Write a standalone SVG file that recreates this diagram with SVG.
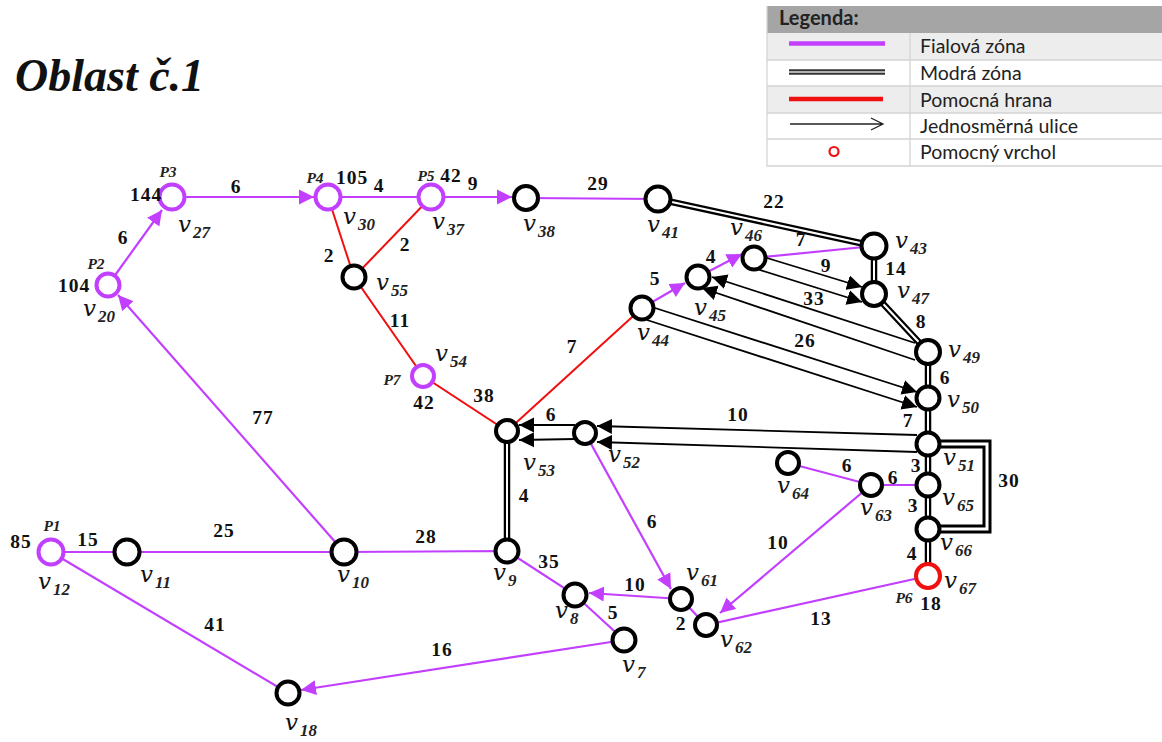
<svg xmlns="http://www.w3.org/2000/svg" width="1162" height="742" viewBox="0 0 1162 742">
<style>
.p{fill:none;stroke:#c23fff;stroke-width:2.200}
.r{fill:none;stroke:#f01010;stroke-width:2}
.a{fill:none;stroke:#000;stroke-width:1.800}
.do{fill:none;stroke:#000;stroke-width:6.500}
.di{fill:none;stroke:#fff;stroke-width:2}
.n{fill:#fff;stroke:#000;stroke-width:4}
.np{fill:#fff;stroke:#c23fff;stroke-width:4}
.nr{fill:#fff;stroke:#f01010;stroke-width:4}
.w,.l{font:bold 19.500px "Liberation Serif",serif;fill:#111;text-anchor:middle;letter-spacing:1px}
.t{font:italic bold 15.500px "Liberation Serif",serif;fill:#222;text-anchor:middle}
.v{font:italic 23px "DejaVu Serif",serif;fill:#111}
.s{font:italic bold 17px "Liberation Serif",serif;fill:#222}
.lg{font:19.500px Lato,sans-serif;fill:#222}
</style>
<defs>
<marker id="ap" markerUnits="userSpaceOnUse" markerWidth="16" markerHeight="16" refX="15" refY="8" orient="auto"><path d="M0 .5L15 8L0 15.500z" fill="#c23fff"/></marker>
<marker id="ab" markerUnits="userSpaceOnUse" markerWidth="16" markerHeight="16" refX="15" refY="8" orient="auto"><path d="M0 .5L15 8L0 15.500z" fill="#000"/></marker>
</defs>
<rect width="1162" height="742" fill="#fff"/>
<text x="15" y="91" font-family="Liberation Serif, serif" font-style="italic" font-weight="700" font-size="46" fill="#111">Oblast č.1</text>
<g id="legend">
<rect x="767" y="6" width="395" height="27" fill="#a5a5a5"/>
<rect x="767" y="33" width="395" height="27" fill="#ededed"/>
<rect x="767" y="86" width="395" height="27" fill="#ededed"/>
<path d="M767 6V166H1162M767 60H1162M767 86H1162M767 113H1162M767 139H1162M910 33V166" fill="none" stroke="#d4d4d4" stroke-width="1.300"/>
<text x="779" y="25" font-family="Lato, sans-serif" font-weight="700" font-size="20" fill="#222">Legenda:</text>
<path d="M789 43.500H885" fill="none" stroke="#c23fff" stroke-width="4.500"/>
<path d="M789 72H885" fill="none" stroke="#333" stroke-width="5.500"/><path d="M789 72H885" fill="none" stroke="#ddd" stroke-width="1.500"/>
<path d="M789 99H883" fill="none" stroke="#f01010" stroke-width="4.500"/>
<path d="M790 124H883M871 118L883 124L871 130" fill="none" stroke="#222" stroke-width="1.300"/>
<circle cx="834" cy="151.500" r="4.500" fill="#fff" stroke="#f01010" stroke-width="2.200"/>
<text class="lg" x="920" y="53">Fialová zóna</text>
<text class="lg" x="920" y="80">Modrá zóna</text>
<text class="lg" x="920" y="107">Pomocná hrana</text>
<text class="lg" x="920" y="133">Jednosměrná ulice</text>
<text class="lg" x="920" y="159">Pomocný vrchol</text>
</g>
<g id="connectors">
<path class="p" d="M51 552H344L507 551L575 595L624 640"/>
<path class="p" d="M51 552L288 693"/>
<path class="p" d="M624 640L301 690" marker-end="url(#ap)"/>
<path class="p" d="M344 552L118 295" marker-end="url(#ap)"/>
<path class="p" d="M108 285L162 210" marker-end="url(#ap)"/>
<path class="p" d="M172 197H314" marker-end="url(#ap)"/>
<path class="p" d="M328 197H431"/>
<path class="p" d="M431 197H512" marker-end="url(#ap)"/>
<path class="p" d="M526 198L658 199"/>
<path class="p" d="M642 308L685 283" marker-end="url(#ap)"/>
<path class="p" d="M698 277L742 254" marker-end="url(#ap)"/>
<path class="p" d="M754 258L874 246"/>
<path class="p" d="M788 463L871 485L928 485"/>
<path class="p" d="M871 485L720 613" marker-end="url(#ap)"/>
<path class="p" d="M928 576L706 625L681 599"/>
<path class="p" d="M681 599L589 593" marker-end="url(#ap)"/>
<path class="p" d="M585 433L671 589" marker-end="url(#ap)"/>
<path class="r" d="M328 197L354 277L423 376L507 431L642 308"/>
<path class="r" d="M431 197L354 277"/>
<path class="do" d="M658 199L874 246M874 246V294L928 352V576M507 431V551"/>
<path class="di" d="M658 199L874 246M874 246V294L928 352V576M507 431V551"/>
<path class="do" d="M928 444H987V529H928" style="stroke-width:9"/>
<path class="di" d="M928 444H987V529H928" style="stroke-width:3"/>
<path class="a" d="M767 258L862 287" marker-end="url(#ab)"/>
<path class="a" d="M757 269L862 302" marker-end="url(#ab)"/>
<path class="a" d="M915 343L712 277" marker-end="url(#ab)"/>
<path class="a" d="M915 360L702 288" marker-end="url(#ab)"/>
<path class="a" d="M655 308L917 392" marker-end="url(#ab)"/>
<path class="a" d="M647 320L917 407" marker-end="url(#ab)"/>
<path class="a" d="M917 435L597 426" marker-end="url(#ab)"/>
<path class="a" d="M917 452L597 442" marker-end="url(#ab)"/>
<path class="a" d="M575 425L519 425" marker-end="url(#ab)"/>
<path class="a" d="M575 439L519 440" marker-end="url(#ab)"/>
</g>
<g id="weights">
<text class="w" x="236" y="193">6</text><text class="w" x="379" y="192">4</text><text class="w" x="473" y="190">9</text><text class="w" x="598" y="190">29</text><text class="w" x="774" y="208">22</text><text class="w" x="801" y="246">7</text><text class="w" x="711" y="263">4</text><text class="w" x="826" y="272">9</text><text class="w" x="896" y="275">14</text><text class="w" x="655" y="285">5</text><text class="w" x="814" y="305">33</text><text class="w" x="921" y="328">8</text><text class="w" x="805" y="347">26</text><text class="w" x="572" y="353">7</text><text class="w" x="945" y="384">6</text><text class="w" x="484" y="402">38</text><text class="w" x="551" y="421">6</text><text class="w" x="738" y="421">10</text><text class="w" x="908" y="427">7</text><text class="w" x="916" y="472">3</text><text class="w" x="847" y="472">6</text><text class="w" x="893" y="484">6</text><text class="w" x="913" y="512">3</text><text class="w" x="1009" y="487">30</text><text class="w" x="524" y="502">4</text><text class="w" x="652" y="528">6</text><text class="w" x="778" y="549">10</text><text class="w" x="549" y="568">35</text><text class="w" x="912" y="560">4</text><text class="w" x="426" y="543">28</text><text class="w" x="224" y="537">25</text><text class="w" x="88" y="546">15</text><text class="w" x="635" y="591">10</text><text class="w" x="613" y="619">5</text><text class="w" x="681" y="630">2</text><text class="w" x="821" y="625">13</text><text class="w" x="215" y="631">41</text><text class="w" x="442" y="656">16</text><text class="w" x="263" y="424">77</text><text class="w" x="400" y="327">11</text><text class="w" x="329" y="262">2</text><text class="w" x="405" y="251">2</text><text class="w" x="123" y="244">6</text>
</g>
<g id="v12"><circle class="np" cx="51" cy="552" r="12.500"/><text class="t" x="52" y="531">P1</text><text class="l" x="21" y="548">85</text><text x="38" y="589"><tspan class="v">v</tspan><tspan class="s" dx="2" dy="6">12</tspan></text></g>
<g id="v11"><circle class="n" cx="127" cy="552" r="12.500"/><text x="140" y="582"><tspan class="v">v</tspan><tspan class="s" dx="2" dy="6">11</tspan></text></g>
<g id="v10"><circle class="n" cx="344" cy="552" r="12.500"/><text x="337" y="582"><tspan class="v">v</tspan><tspan class="s" dx="2" dy="6">10</tspan></text></g>
<g id="v9"><circle class="n" cx="507" cy="551" r="11.500"/><text x="493" y="580"><tspan class="v">v</tspan><tspan class="s" dx="2" dy="6">9</tspan></text></g>
<g id="v8"><circle class="n" cx="575" cy="595" r="11.500"/><text x="555" y="618"><tspan class="v">v</tspan><tspan class="s" dx="2" dy="6">8</tspan></text></g>
<g id="v7"><circle class="n" cx="624" cy="640" r="11.500"/><text x="622" y="672"><tspan class="v">v</tspan><tspan class="s" dx="2" dy="6">7</tspan></text></g>
<g id="v18"><circle class="n" cx="288" cy="693" r="11.500"/><text x="285" y="730"><tspan class="v">v</tspan><tspan class="s" dx="2" dy="6">18</tspan></text></g>
<g id="v20"><circle class="np" cx="108" cy="285" r="11.500"/><text class="t" x="96" y="269">P2</text><text class="l" x="74" y="292">104</text><text x="83" y="316"><tspan class="v">v</tspan><tspan class="s" dx="2" dy="6">20</tspan></text></g>
<g id="v27"><circle class="np" cx="172" cy="197" r="12.500"/><text class="t" x="168" y="177">P3</text><text class="l" x="146" y="201">144</text><text x="178" y="232"><tspan class="v">v</tspan><tspan class="s" dx="2" dy="6">27</tspan></text></g>
<g id="v30"><circle class="np" cx="328" cy="197" r="12.500"/><text class="t" x="315" y="183">P4</text><text class="l" x="352" y="184">105</text><text x="343" y="224"><tspan class="v">v</tspan><tspan class="s" dx="2" dy="6">30</tspan></text></g>
<g id="v37"><circle class="np" cx="431" cy="197" r="12.500"/><text class="t" x="426" y="181">P5</text><text class="l" x="451" y="182">42</text><text x="432" y="229"><tspan class="v">v</tspan><tspan class="s" dx="2" dy="6">37</tspan></text></g>
<g id="v38"><circle class="n" cx="526" cy="198" r="12"/><text x="523" y="231"><tspan class="v">v</tspan><tspan class="s" dx="2" dy="6">38</tspan></text></g>
<g id="v41"><circle class="n" cx="658" cy="199" r="12.500"/><text x="647" y="232"><tspan class="v">v</tspan><tspan class="s" dx="2" dy="6">41</tspan></text></g>
<g id="v43"><circle class="n" cx="874" cy="246" r="12.500"/><text x="895" y="248"><tspan class="v">v</tspan><tspan class="s" dx="2" dy="6">43</tspan></text></g>
<g id="v47"><circle class="n" cx="874" cy="294" r="12"/><text x="897" y="298"><tspan class="v">v</tspan><tspan class="s" dx="2" dy="6">47</tspan></text></g>
<g id="v46"><circle class="n" cx="754" cy="258" r="11.500"/><text x="730" y="235"><tspan class="v">v</tspan><tspan class="s" dx="2" dy="6">46</tspan></text></g>
<g id="v45"><circle class="n" cx="698" cy="277" r="11.500"/><text x="694" y="315"><tspan class="v">v</tspan><tspan class="s" dx="2" dy="6">45</tspan></text></g>
<g id="v44"><circle class="n" cx="642" cy="308" r="11.500"/><text x="637" y="340"><tspan class="v">v</tspan><tspan class="s" dx="2" dy="6">44</tspan></text></g>
<g id="v49"><circle class="n" cx="928" cy="352" r="12"/><text x="948" y="357"><tspan class="v">v</tspan><tspan class="s" dx="2" dy="6">49</tspan></text></g>
<g id="v50"><circle class="n" cx="928" cy="398" r="11.500"/><text x="947" y="407"><tspan class="v">v</tspan><tspan class="s" dx="2" dy="6">50</tspan></text></g>
<g id="v51"><circle class="n" cx="928" cy="444" r="11.500"/><text x="943" y="465"><tspan class="v">v</tspan><tspan class="s" dx="2" dy="6">51</tspan></text></g>
<g id="v65"><circle class="n" cx="928" cy="485" r="11.500"/><text x="942" y="505"><tspan class="v">v</tspan><tspan class="s" dx="2" dy="6">65</tspan></text></g>
<g id="v66"><circle class="n" cx="928" cy="529" r="11.500"/><text x="940" y="550"><tspan class="v">v</tspan><tspan class="s" dx="2" dy="6">66</tspan></text></g>
<g id="v67"><circle class="nr" cx="928" cy="576" r="12"/><text class="t" x="904" y="603">P6</text><text class="l" x="931" y="610">18</text><text x="944" y="588"><tspan class="v">v</tspan><tspan class="s" dx="2" dy="6">67</tspan></text></g>
<g id="v63"><circle class="n" cx="871" cy="485" r="11"/><text x="860" y="515"><tspan class="v">v</tspan><tspan class="s" dx="2" dy="6">63</tspan></text></g>
<g id="v64"><circle class="n" cx="788" cy="463" r="11"/><text x="777" y="493"><tspan class="v">v</tspan><tspan class="s" dx="2" dy="6">64</tspan></text></g>
<g id="v61"><circle class="n" cx="681" cy="599" r="11"/><text x="686" y="580"><tspan class="v">v</tspan><tspan class="s" dx="2" dy="6">61</tspan></text></g>
<g id="v62"><circle class="n" cx="706" cy="625" r="11"/><text x="720" y="647"><tspan class="v">v</tspan><tspan class="s" dx="2" dy="6">62</tspan></text></g>
<g id="v52"><circle class="n" cx="585" cy="433" r="11"/><text x="608" y="462"><tspan class="v">v</tspan><tspan class="s" dx="2" dy="6">52</tspan></text></g>
<g id="v53"><circle class="n" cx="507" cy="431" r="11"/><text x="523" y="470"><tspan class="v">v</tspan><tspan class="s" dx="2" dy="6">53</tspan></text></g>
<g id="v54"><circle class="np" cx="423" cy="376" r="11"/><text class="t" x="392" y="385">P7</text><text class="l" x="424" y="409">42</text><text x="435" y="361"><tspan class="v">v</tspan><tspan class="s" dx="2" dy="6">54</tspan></text></g>
<g id="v55"><circle class="n" cx="354" cy="277" r="11.500"/><text x="376" y="290"><tspan class="v">v</tspan><tspan class="s" dx="2" dy="6">55</tspan></text></g>
</svg>
